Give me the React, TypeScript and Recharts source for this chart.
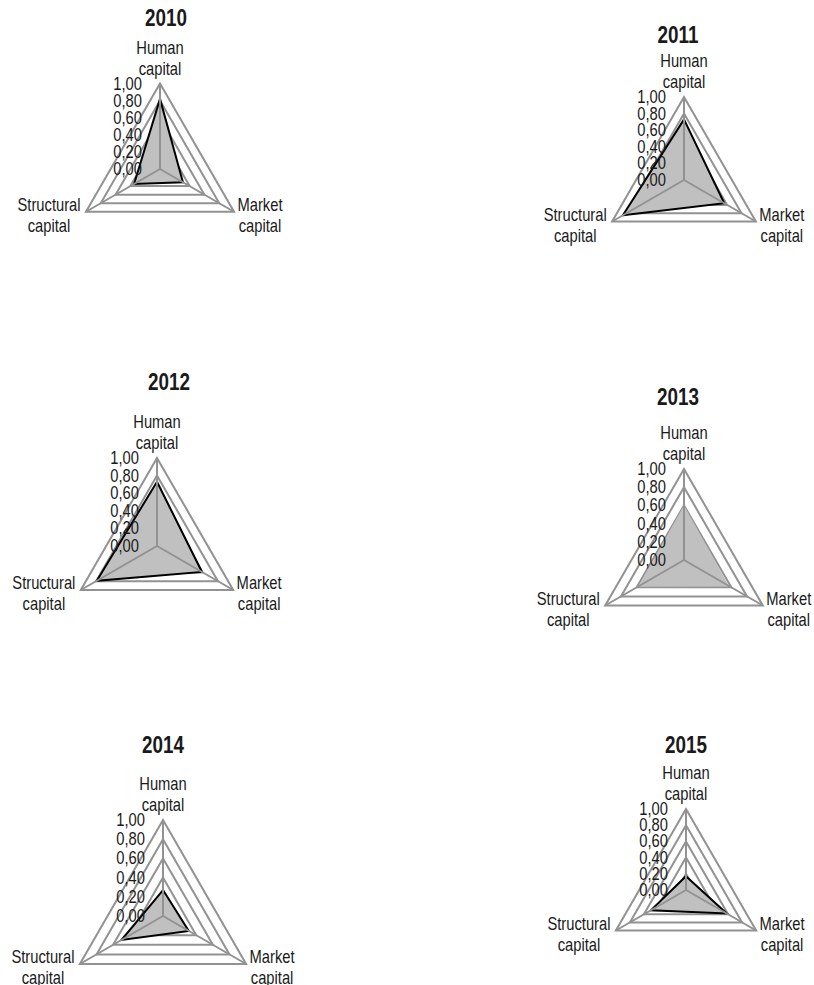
import React from 'react';
import { RadarChart, Radar, PolarGrid, PolarAngleAxis, PolarRadiusAxis } from 'recharts';

const categories = ['Human capital', 'Market capital', 'Structural capital'];
const years = ['2010', '2011', '2012', '2013', '2014', '2015'];
const values2010 = [0.82, 0.31, 0.35];
const values2011 = [0.73, 0.56, 0.85];
const values2012 = [0.73, 0.59, 0.79];
const values2013 = [0.6, 0.57, 0.58];
const values2014 = [0.27, 0.31, 0.5];
const values2015 = [0.17, 0.58, 0.5];
const radiusTicks = [0, 0.2, 0.4, 0.6, 0.8, 1.0];
const radiusTickLabels = ['0,00', '0,20', '0,40', '0,60', '0,80', '1,00'];

const seriesByYear = [values2010, values2011, values2012, values2013, values2014, values2015];
const outlined = [true, true, true, false, true, true];

// layout (page coordinates)
const panels = [
  { cx: 160, cy: 169, r: 85.5, tx: 166, ty: 18 },
  { cx: 683.5, cy: 180, r: 83, tx: 677.5, ty: 35 },
  { cx: 157, cy: 546, r: 88, tx: 169, ty: 382 },
  { cx: 683.5, cy: 560, r: 91, tx: 677.5, ty: 397 },
  { cx: 162.5, cy: 916, r: 96, tx: 163, ty: 745 },
  { cx: 685.5, cy: 890, r: 81, tx: 686, ty: 745 },
];

const FONT = '"Liberation Sans", Arial, sans-serif';
const SX = 0.82;
const GRID = '#929292';
const FILL = '#c0c0c0';
const TEXT = '#1a1a1a';
const W = 320;
const H = 340;
const LX = 160;
const LY = 190;

const NarrowText = ({ x, y, anchor, children, size = 18 }: any) => (
  <text
    transform={`translate(${x},${y}) scale(${SX},1)`}
    x={0}
    y={0}
    textAnchor={anchor}
    fontFamily={FONT}
    fontSize={size}
    fill={TEXT}
  >
    {children}
  </text>
);

const AngleTick = (props: any) => {
  const { x, y, payload } = props;
  const v: string = payload.value;
  const parts = v.split(' ');
  let cxT = x;
  let base = y;
  if (v.startsWith('Human')) {
    cxT = x;
    base = y - 22;
  } else if (v.startsWith('Market')) {
    cxT = x + 19;
    base = y - 5;
  } else {
    cxT = x - 30;
    base = y - 5;
  }
  return (
    <g>
      {parts.map((p, i) => (
        <NarrowText key={i} x={cxT} y={base + i * 21} anchor="middle">
          {p}
        </NarrowText>
      ))}
    </g>
  );
};

const RadiusTick = (props: any) => {
  const { x, y, payload } = props;
  const idx = radiusTicks.findIndex((t) => Math.abs(t - payload.value) < 1e-6);
  const label = idx >= 0 ? radiusTickLabels[idx] : String(payload.value);
  return (
    <NarrowText x={x - 18} y={y + 6} anchor="end">
      {label}
    </NarrowText>
  );
};

const Panel = ({ k }: { k: number }) => {
  const p = panels[k];
  const vals = seriesByYear[k];
  const data = categories.map((c, i) => ({ axis: c, value: vals[i] }));
  const left = p.cx - LX;
  const top = p.cy - LY;
  const common = {
    width: W,
    height: H,
    data,
    cx: LX,
    cy: LY,
    outerRadius: p.r,
    innerRadius: 0,
    margin: { top: 0, right: 0, bottom: 0, left: 0 },
  };
  return (
    <>
      <div style={{ position: 'absolute', left, top }}>
        <RadarChart {...common}>
          <PolarGrid gridType="polygon" radialLines={false} stroke={GRID} strokeWidth={2} />
          <PolarAngleAxis dataKey="axis" tick={false} axisLine={false} tickLine={false} />
          <PolarRadiusAxis angle={90} domain={[0, 1]} ticks={radiusTicks} tick={false} axisLine={false} tickLine={false} />
          <Radar
            dataKey="value"
            fill={FILL}
            fillOpacity={1}
            stroke={outlined[k] ? '#000' : 'none'}
            strokeWidth={2}
            dot={false}
            isAnimationActive={false}
          />
        </RadarChart>
      </div>
      <div style={{ position: 'absolute', left, top }}>
        <RadarChart {...common}>
          <PolarGrid gridType="polygon" polarRadius={[0]} radialLines={true} stroke={GRID} strokeWidth={2} />
          <PolarAngleAxis dataKey="axis" tick={<AngleTick />} axisLine={false} tickLine={false} />
          <PolarRadiusAxis angle={90} domain={[0, 1]} ticks={radiusTicks} tick={<RadiusTick />} axisLine={false} tickLine={false} />
          <Radar dataKey="value" fill="none" stroke="none" dot={false} isAnimationActive={false} />
        </RadarChart>
      </div>
      <div
        style={{
          position: 'absolute',
          left: p.tx - 60,
          top: p.ty - 14,
          width: 120,
          textAlign: 'center',
          fontFamily: FONT,
          fontWeight: 'bold',
          fontSize: 23,
          lineHeight: '28px',
          color: TEXT,
          transform: `scaleX(${SX})`,
        }}
      >
        {years[k]}
      </div>
    </>
  );
};

export default function App() {
  return (
    <div style={{ position: 'absolute', left: 0, top: 0, width: 814, height: 985, overflow: 'hidden', background: '#fff' }}>
      {years.map((_, k) => (
        <Panel key={k} k={k} />
      ))}
    </div>
  );
}
